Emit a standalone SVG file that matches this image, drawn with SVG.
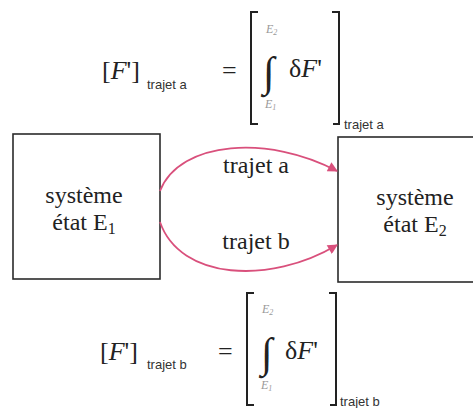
<svg xmlns="http://www.w3.org/2000/svg" width="473" height="408" viewBox="0 0 473 408">
<style>
.box{fill:#fff;stroke:#2b2b2b;stroke-width:1.6}
.t{font-family:"Liberation Serif","Times New Roman",serif;fill:#222;font-size:24px}
.m{font-family:"Liberation Serif","Times New Roman",serif;fill:#222;font-size:26px}
.it{font-style:italic}
.sub{font-family:"Liberation Sans",Arial,sans-serif;fill:#333;font-size:13px}
.lim{font-family:"Liberation Serif","Times New Roman",serif;font-style:italic;fill:#999;font-size:12px}
.br{fill:none;stroke:#222;stroke-width:2}
.arc{fill:none;stroke:#d9507c;stroke-width:1.8}
</style>
<defs>
<marker id="ah" viewBox="0 0 10 10" refX="9" refY="5" markerWidth="11" markerHeight="10" orient="auto" markerUnits="userSpaceOnUse">
<path d="M0,0 L10,5 L0,10 z" fill="#d9507c"/>
</marker>
</defs>
<rect width="473" height="408" fill="#fff"/>

<g id="eq-a">
<text class="m" x="102" y="79">[<tspan class="it">F</tspan>']</text>
<text class="sub" x="147" y="89">trajet a</text>
<text class="m" x="222" y="79">=</text>
<path class="br" d="M258,12 H251 V124 H258"/>
<text class="lim" x="266" y="33">E<tspan font-size="8" dy="2">2</tspan></text>
<text x="263" y="86" font-family="Liberation Serif,serif" font-size="42" font-weight="bold" fill="#222">∫</text>
<text class="lim" x="265" y="108">E<tspan font-size="8" dy="2">1</tspan></text>
<text class="m" x="289" y="77">δ<tspan class="it">F</tspan>'</text>
<path class="br" d="M332,12 H339 V124 H333"/>
<text class="sub" x="344" y="129">trajet a</text>
</g>

<g id="eq-b">
<text class="m" x="100" y="360">[<tspan class="it">F</tspan>']</text>
<text class="sub" x="147" y="369">trajet b</text>
<text class="m" x="218" y="360">=</text>
<path class="br" d="M254,293 H247 V405 H254"/>
<text class="lim" x="262" y="313">E<tspan font-size="8" dy="2">2</tspan></text>
<text x="261" y="367" font-family="Liberation Serif,serif" font-size="42" font-weight="bold" fill="#222">∫</text>
<text class="lim" x="261" y="389">E<tspan font-size="8" dy="2">1</tspan></text>
<text class="m" x="285" y="359">δ<tspan class="it">F</tspan>'</text>
<path class="br" d="M329,293 H336 V405 H330"/>
<text class="sub" x="340" y="406">trajet b</text>
</g>

<g id="state1">
<rect class="box" x="13" y="134" width="147" height="145"/>
<text class="t" x="84" y="203" text-anchor="middle">système</text>
<text class="t" x="84" y="230" text-anchor="middle">état E<tspan font-size="16" dy="4">1</tspan></text>
</g>

<g id="state2">
<rect class="box" x="338" y="137" width="145" height="145"/>
<text class="t" x="415" y="205" text-anchor="middle">système</text>
<text class="t" x="415" y="232" text-anchor="middle">état E<tspan font-size="16" dy="4">2</tspan></text>
</g>

<g id="connectors">
<path class="arc" d="M160,191 C180,140 270,135 337,171" marker-end="url(#ah)"/>
<path class="arc" d="M160,222 C180,280 270,285 337,245" marker-end="url(#ah)"/>
<text class="t" x="256" y="173" text-anchor="middle">trajet a</text>
<text class="t" x="256" y="249" text-anchor="middle">trajet b</text>
</g>
</svg>
